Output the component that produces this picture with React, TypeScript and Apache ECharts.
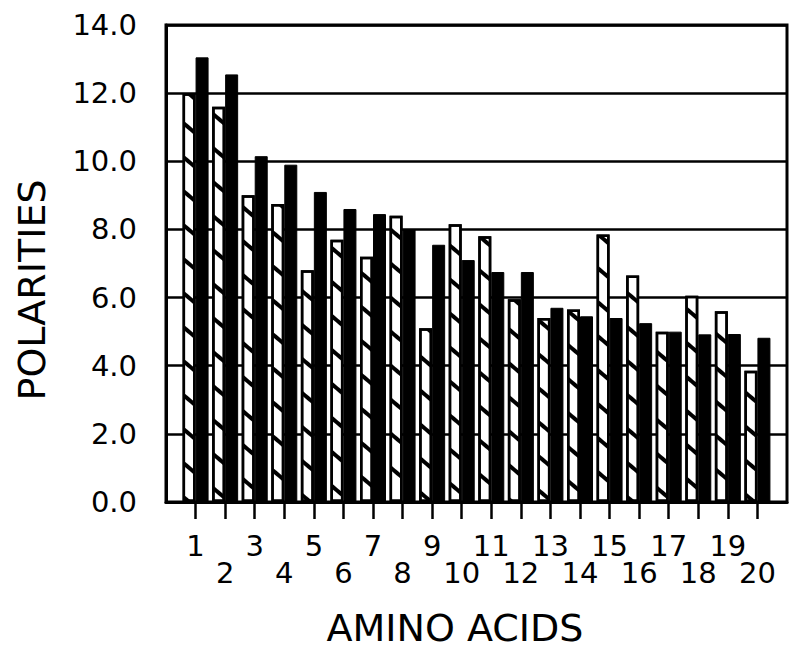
import React, { useEffect, useRef } from "react";
import * as echarts from "echarts";

const positions = [1, 2, 3, 4, 5, 6, 7, 8, 9, 10, 11, 12, 13, 14, 15, 16, 17, 18, 19, 20];
const hatchedValues = [12.0, 11.6, 9.0, 8.75, 6.8, 7.7, 7.2, 8.4, 5.1, 8.15, 7.8, 5.95, 5.4, 5.65, 7.85, 6.65, 5.0, 6.05, 5.6, 3.85];
const solidValues = [13.05, 12.55, 10.15, 9.9, 9.1, 8.6, 8.45, 8.0, 7.55, 7.1, 6.75, 6.75, 5.7, 5.45, 5.4, 5.25, 5.0, 4.92, 4.93, 4.82];
const xTitle = "AMINO ACIDS";
const yTitle = "POLARITIES";

export default function App() {
  const ref = useRef<HTMLDivElement>(null);
  useEffect(() => {
    if (!ref.current) return;
    const chart = echarts.init(ref.current, null, { renderer: "svg" });
    const font = "DejaVu Sans";
    const oddPositions = positions.filter((p) => p % 2 === 1);
    const evenPositions = positions.filter((p) => p % 2 === 0);
    const labelBase = {
      showMinLabel: true,
      showMaxLabel: true,
      hideOverlap: false,
      fontFamily: font,
      fontSize: 29,
      color: "#000",
      formatter: (v: number) => String(v),
    };
    chart.setOption({
      animation: false,
      backgroundColor: "#fff",
      textStyle: { fontFamily: font, color: "#000" },
      grid: {
        left: 166,
        right: 9,
        top: 25,
        bottom: 157,
        show: true,
        borderColor: "#000",
        borderWidth: 3,
        containLabel: false,
        outerBoundsMode: "none",
      },
      xAxis: [
        {
          type: "value",
          position: "bottom",
          min: 0,
          max: 21,
          interval: 1,
          axisLine: { show: true, lineStyle: { color: "#000", width: 3 } },
          axisTick: {
            show: true,
            customValues: positions,
            length: 17,
            lineStyle: { color: "#000", width: 2.5 },
          },
          axisLabel: { ...labelBase, customValues: oddPositions, margin: 29 },
          splitLine: { show: false },
        },
        {
          type: "value",
          position: "bottom",
          min: 0,
          max: 21,
          interval: 1,
          axisLine: { show: false },
          axisTick: { show: false },
          axisLabel: { ...labelBase, customValues: evenPositions, margin: 56 },
          splitLine: { show: false },
        },
      ],
      yAxis: {
        type: "value",
        min: 0,
        max: 14,
        interval: 2,
        axisLine: { show: true, lineStyle: { color: "#000", width: 3 } },
        axisTick: { show: false },
        axisLabel: {
          fontFamily: font,
          fontSize: 29,
          margin: 29,
          color: "#000",
          formatter: (v: number) => v.toFixed(1),
        },
        splitLine: { show: true, lineStyle: { color: "#000", width: 2.5 } },
      },
      graphic: [
        {
          type: "text",
          x: 455,
          y: 628,
          style: {
            text: xTitle,
            font: `38px "${font}"`,
            fill: "#000",
            align: "center",
            verticalAlign: "middle",
          },
        },
        {
          type: "text",
          x: 32,
          y: 290,
          rotation: Math.PI / 2,
          style: {
            text: yTitle,
            font: `38px "${font}"`,
            fill: "#000",
            align: "center",
            verticalAlign: "middle",
          },
        },
      ],
      series: [
        {
          type: "bar",
          xAxisIndex: 0,
          data: hatchedValues.map((v, i) => [positions[i], v]),
          barWidth: 13,
          barGap: "0%",
          itemStyle: {
            color: "#fff",
            borderColor: "#000",
            borderWidth: 2.5,
            decal: {
              symbol: "rect",
              symbolSize: 1,
              dashArrayX: [1, 0],
              dashArrayY: [4, 22],
              rotation: 0.7,
              color: "#000",
            },
          },
        },
        {
          type: "bar",
          xAxisIndex: 0,
          data: solidValues.map((v, i) => [positions[i], v]),
          barWidth: 13,
          barGap: "0%",
          itemStyle: { color: "#000", borderColor: "#000", borderWidth: 1 },
        },
      ],
    });
    return () => chart.dispose();
  }, []);
  return (
    <div
      ref={ref}
      style={{ position: "fixed", left: 0, top: 0, width: 796, height: 659 }}
    />
  );
}
